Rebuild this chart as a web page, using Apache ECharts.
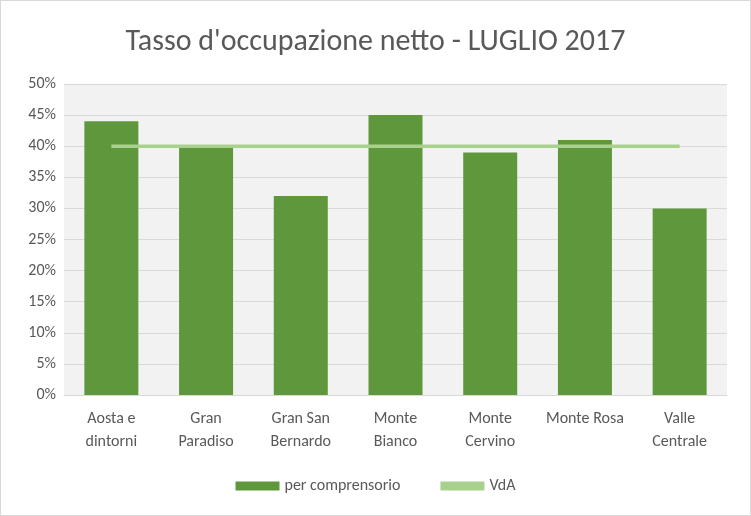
<!DOCTYPE html>
<html><head><meta charset="utf-8">
<script src="https://cdn.jsdelivr.net/npm/echarts@6/dist/echarts.min.js"></script>
<style>html,body{margin:0;padding:0;background:#fff}#c{width:749px;height:514px;border:1px solid #d9d9d9}</style>
</head><body><div id="c"></div>
<script>
const categories = ["Aosta e\ndintorni","Gran\nParadiso","Gran San\nBernardo","Monte\nBianco","Monte\nCervino","Monte Rosa","Valle\nCentrale"];
const perComprensorio = [44,40,32,45,39,41,30];
const vda = [40,40,40,40,40,40,40];
const chart = echarts.init(document.getElementById('c'));
const font = 'Calibri, Carlito, "Liberation Sans", sans-serif';
chart.setOption({
  animation:false,
  title:{text:"Tasso d'occupazione netto - LUGLIO 2017",left:'center',top:21,textStyle:{fontFamily:font,fontSize:30,fontWeight:'normal',color:'#595959'}},
  grid:{left:63,right:23,top:83,bottom:120,show:true,backgroundColor:'#f2f2f2',borderWidth:0},
  legend:{bottom:16,itemGap:40,textStyle:{fontFamily:font,fontSize:16,color:'#595959'},
    data:[{name:'per comprensorio',icon:'rect'},{name:'VdA',icon:'rect'}],itemWidth:44,itemHeight:9},
  xAxis:{type:'category',data:categories,axisTick:{show:false},axisLine:{lineStyle:{color:'#d9d9d9'}},
    axisLabel:{fontFamily:font,fontSize:16,color:'#595959',lineHeight:23,margin:12,interval:0}},
  yAxis:{type:'value',min:0,max:50,interval:5,axisLabel:{formatter:'{value}%',fontFamily:font,fontSize:16,color:'#595959'},
    splitLine:{lineStyle:{color:'#d9d9d9'}}},
  series:[
    {name:'per comprensorio',type:'bar',data:perComprensorio,barWidth:'57%',itemStyle:{color:'#5f983c'}},
    {name:'VdA',type:'line',data:vda,symbol:'none',lineStyle:{color:'#a9d18e',width:3.5},itemStyle:{color:'#a9d18e'}}
  ]
});
</script></body></html>
